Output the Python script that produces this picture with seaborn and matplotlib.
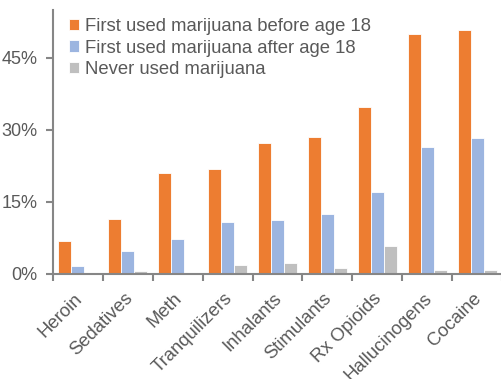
import matplotlib
matplotlib.use("Agg")
import matplotlib.pyplot as plt
import matplotlib.transforms as mtransforms
import seaborn as sns
import pandas as pd
from matplotlib.ticker import FuncFormatter

drugs = ["Heroin", "Sedatives", "Meth", "Tranquilizers", "Inhalants",
         "Stimulants", "Rx Opioids", "Hallucinogens", "Cocaine"]
before_18 = [6.9, 11.4, 21.0, 21.8, 27.2, 28.5, 34.8, 50.1, 50.8]
after_18 = [1.7, 4.8, 7.3, 10.8, 11.3, 12.6, 17.0, 26.5, 28.4]
never = [0.0, 0.6, 0.0, 1.8, 2.2, 1.2, 5.9, 0.8, 0.8]
series_names = ["First used marijuana before age 18",
                "First used marijuana after age 18",
                "Never used marijuana"]
colors = ["#ED7D31", "#9CB5E0", "#BFBFBF"]

rows = []
for name, vals in zip(series_names, [before_18, after_18, never]):
    for d, v in zip(drugs, vals):
        rows.append({"drug": d, "group": name, "pct": v})
df = pd.DataFrame(rows)

sns.set_theme(style="white")
plt.rcParams["font.family"] = ["Liberation Sans", "DejaVu Sans"]
text_color = "#595959"
axis_color = "#868686"

fig = plt.figure(figsize=(5.02, 3.79), dpi=100)
ax = fig.add_axes([53 / 502, 1 - 274 / 379, 1 - 53 / 502, (274 - 10) / 379])

sns.barplot(data=df, x="drug", y="pct", hue="group", order=drugs,
            hue_order=series_names, palette=colors, width=0.78,
            saturation=1, edgecolor="white", linewidth=0.6, ax=ax)

ax.set_ylim(0, 55)
ax.set_xlim(-0.5, len(drugs) - 0.5)
ax.set_yticks([0, 15, 30, 45])
ax.yaxis.set_major_formatter(FuncFormatter(lambda v, p: f"{v:.0f}%"))
ax.set_xlabel("")
ax.set_ylabel("")

for s in ["top", "right"]:
    ax.spines[s].set_visible(False)
for s in ["left", "bottom"]:
    ax.spines[s].set_color(axis_color)
    ax.spines[s].set_linewidth(1.5)

# category ticks at group boundaries, labels at group centres
ax.set_xticks([i - 0.5 for i in range(len(drugs) + 1)], minor=True)
ax.set_xticks(range(len(drugs)))
ax.set_xticklabels(drugs, rotation=45, ha="right", va="top",
                   rotation_mode="anchor", fontsize=13.3, color=text_color)
ax.tick_params(axis="x", which="major", length=0, pad=10)
ax.tick_params(axis="x", which="minor", length=5, width=1.5,
               color=axis_color, direction="out", bottom=True)
ax.tick_params(axis="y", length=5, width=1.5, color=axis_color,
               labelsize=13, labelcolor=text_color, left=True, pad=6)

shift = mtransforms.ScaledTranslation(-4 / 100, -2 / 100, fig.dpi_scale_trans)
for lab in ax.get_xticklabels():
    lab.set_transform(lab.get_transform() + shift)

leg = ax.legend(loc="upper left", bbox_to_anchor=(0.036, 0.97), frameon=False,
                fontsize=13.3, handlelength=0.55, handleheight=0.55,
                handletextpad=0.3, labelspacing=0.25, borderaxespad=0,
                borderpad=0)
for t in leg.get_texts():
    t.set_color(text_color)

fig.savefig("out.png", dpi=100)
